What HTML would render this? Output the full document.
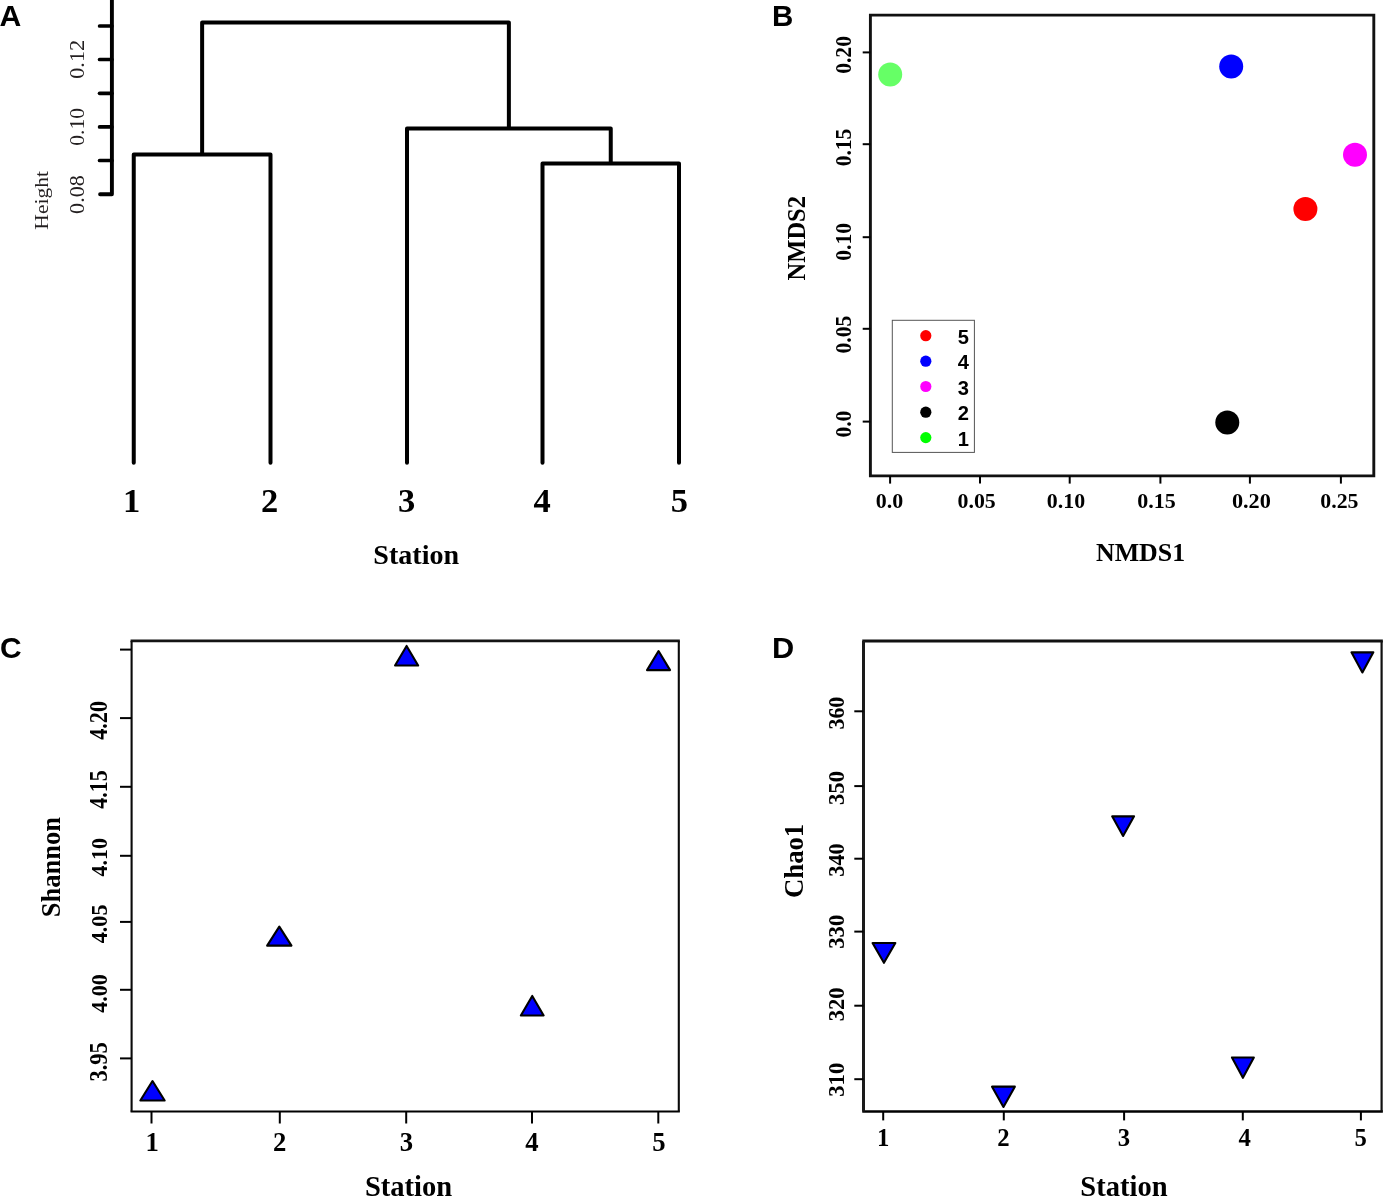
<!DOCTYPE html>
<html><head><meta charset="utf-8"><title>Figure</title>
<style>
html,body{margin:0;padding:0;background:#fff;}
body{width:1383px;height:1196px;overflow:hidden;font-family:"Liberation Serif", serif;}
svg{display:block;will-change:transform;}
</style></head>
<body>
<svg width="1383" height="1196" viewBox="0 0 1383 1196">
<rect x="0" y="0" width="1383" height="1196" fill="#fff"/>
<path d="M111.9,-3 V194.2 H100.1" stroke="#000" stroke-width="3.9" stroke-linecap="round" stroke-linejoin="round" fill="none"/>
<path d="M99.6,26 H111.9" stroke="#000" stroke-width="3.7" stroke-linecap="round" fill="none"/>
<path d="M99.6,59.5 H111.9" stroke="#000" stroke-width="3.7" stroke-linecap="round" fill="none"/>
<path d="M99.6,93.3 H111.9" stroke="#000" stroke-width="3.7" stroke-linecap="round" fill="none"/>
<path d="M99.6,126.95 H111.9" stroke="#000" stroke-width="3.7" stroke-linecap="round" fill="none"/>
<path d="M99.6,160.5 H111.9" stroke="#000" stroke-width="3.7" stroke-linecap="round" fill="none"/>
<path d="M133.75,462.8 V154.4 H270.5 V462.8 M542.5,462.8 V163.6 H679 V462.8 M407,462.8 V128.5 H610.75 V163.6 M202.125,154.4 V22.4 H508.875 V128.5" fill="none" stroke="#000" stroke-width="4" stroke-linejoin="round" stroke-linecap="round"/>
<path d="M870.4,15.1 H1373.8 V475.9 H870.4 Z" fill="none" stroke="#111" stroke-width="2.9" stroke-linejoin="miter"/>
<line x1="862.7" y1="52.4" x2="870.4" y2="52.4" stroke="#000" stroke-width="2" stroke-linecap="butt"/>
<line x1="862.7" y1="144.2" x2="870.4" y2="144.2" stroke="#000" stroke-width="2" stroke-linecap="butt"/>
<line x1="862.7" y1="237.2" x2="870.4" y2="237.2" stroke="#000" stroke-width="2" stroke-linecap="butt"/>
<line x1="862.7" y1="328.8" x2="870.4" y2="328.8" stroke="#000" stroke-width="2" stroke-linecap="butt"/>
<line x1="862.7" y1="421.6" x2="870.4" y2="421.6" stroke="#000" stroke-width="2" stroke-linecap="butt"/>
<line x1="890.1" y1="475.9" x2="890.1" y2="483.6" stroke="#000" stroke-width="2" stroke-linecap="butt"/>
<line x1="980.0" y1="475.9" x2="980.0" y2="483.6" stroke="#000" stroke-width="2" stroke-linecap="butt"/>
<line x1="1069.7" y1="475.9" x2="1069.7" y2="483.6" stroke="#000" stroke-width="2" stroke-linecap="butt"/>
<line x1="1160.4" y1="475.9" x2="1160.4" y2="483.6" stroke="#000" stroke-width="2" stroke-linecap="butt"/>
<line x1="1249.9" y1="475.9" x2="1249.9" y2="483.6" stroke="#000" stroke-width="2" stroke-linecap="butt"/>
<line x1="1340.9" y1="475.9" x2="1340.9" y2="483.6" stroke="#000" stroke-width="2" stroke-linecap="butt"/>
<circle cx="890.2" cy="74.5" r="12" fill="#66ff66"/>
<circle cx="1231.2" cy="66.5" r="12" fill="#0000ff"/>
<circle cx="1355" cy="154.7" r="12" fill="#ff00ff"/>
<circle cx="1305.4" cy="209.1" r="12" fill="#ff0000"/>
<circle cx="1227.3" cy="422.6" r="12" fill="#000000"/>
<rect x="892.3" y="320.3" width="82.10" height="132.10" fill="none" stroke="#555" stroke-width="1"/>
<circle cx="925.8" cy="335.7" r="5.6" fill="#ff0000"/>
<circle cx="925.8" cy="361.2" r="5.6" fill="#0000ff"/>
<circle cx="925.8" cy="386.5" r="5.6" fill="#ff00ff"/>
<circle cx="925.8" cy="412.2" r="5.6" fill="#000000"/>
<circle cx="925.8" cy="437.6" r="5.6" fill="#00ff00"/>
<text x="957.80" y="343.95" font-family='"Liberation Sans", sans-serif' font-size="20.143" font-weight="bold" fill="#000">5</text>
<text x="957.80" y="369.45" font-family='"Liberation Sans", sans-serif' font-size="20.143" font-weight="bold" fill="#000">4</text>
<text x="957.80" y="394.75" font-family='"Liberation Sans", sans-serif' font-size="20.143" font-weight="bold" fill="#000">3</text>
<text x="957.80" y="420.45" font-family='"Liberation Sans", sans-serif' font-size="20.143" font-weight="bold" fill="#000">2</text>
<text x="957.80" y="445.85" font-family='"Liberation Sans", sans-serif' font-size="20.143" font-weight="bold" fill="#000">1</text>
<line x1="130.54999999999998" y1="640.9" x2="679.8499999999999" y2="640.9" stroke="#141414" stroke-width="2.6" stroke-linecap="butt"/>
<line x1="130.54999999999998" y1="1111.5" x2="679.8499999999999" y2="1111.5" stroke="#000" stroke-width="2.0" stroke-linecap="butt"/>
<line x1="131.6" y1="640.9" x2="131.6" y2="1111.5" stroke="#0a0a0a" stroke-width="2.1" stroke-linecap="butt"/>
<line x1="678.8" y1="640.9" x2="678.8" y2="1111.5" stroke="#0a0a0a" stroke-width="2.1" stroke-linecap="butt"/>
<line x1="120.0" y1="649.6" x2="131.6" y2="649.6" stroke="#000" stroke-width="2" stroke-linecap="butt"/>
<line x1="120.0" y1="718.1" x2="131.6" y2="718.1" stroke="#000" stroke-width="2" stroke-linecap="butt"/>
<line x1="120.0" y1="786.8" x2="131.6" y2="786.8" stroke="#000" stroke-width="2" stroke-linecap="butt"/>
<line x1="120.0" y1="855.8" x2="131.6" y2="855.8" stroke="#000" stroke-width="2" stroke-linecap="butt"/>
<line x1="120.0" y1="921.9" x2="131.6" y2="921.9" stroke="#000" stroke-width="2" stroke-linecap="butt"/>
<line x1="120.0" y1="989.8" x2="131.6" y2="989.8" stroke="#000" stroke-width="2" stroke-linecap="butt"/>
<line x1="120.0" y1="1058.4" x2="131.6" y2="1058.4" stroke="#000" stroke-width="2" stroke-linecap="butt"/>
<line x1="151.5" y1="1111.5" x2="151.5" y2="1123.5" stroke="#000" stroke-width="2" stroke-linecap="butt"/>
<line x1="279.8" y1="1111.5" x2="279.8" y2="1123.5" stroke="#000" stroke-width="2" stroke-linecap="butt"/>
<line x1="406.2" y1="1111.5" x2="406.2" y2="1123.5" stroke="#000" stroke-width="2" stroke-linecap="butt"/>
<line x1="532" y1="1111.5" x2="532" y2="1123.5" stroke="#000" stroke-width="2" stroke-linecap="butt"/>
<line x1="658.3" y1="1111.5" x2="658.3" y2="1123.5" stroke="#000" stroke-width="2" stroke-linecap="butt"/>
<polygon points="152.50,1081.05 164.65,1100.55 140.35,1100.55" fill="#0000ff" stroke="#000" stroke-width="2.1" stroke-linejoin="round"/>
<polygon points="279.30,926.65 291.45,945.65 267.15,945.65" fill="#0000ff" stroke="#000" stroke-width="2.1" stroke-linejoin="round"/>
<polygon points="406.60,645.95 418.15,665.55 395.05,665.55" fill="#0000ff" stroke="#000" stroke-width="2.1" stroke-linejoin="round"/>
<polygon points="532.25,995.95 543.65,1015.45 520.85,1015.45" fill="#0000ff" stroke="#000" stroke-width="2.1" stroke-linejoin="round"/>
<polygon points="658.55,651.05 670.05,670.15 647.05,670.15" fill="#0000ff" stroke="#000" stroke-width="2.1" stroke-linejoin="round"/>
<line x1="862.25" y1="640.9" x2="1382.85" y2="640.9" stroke="#111" stroke-width="3.0" stroke-linecap="butt"/>
<line x1="862.25" y1="1111.5" x2="1382.85" y2="1111.5" stroke="#000" stroke-width="2.4" stroke-linecap="butt"/>
<line x1="863.5" y1="640.9" x2="863.5" y2="1111.5" stroke="#1a1a1a" stroke-width="3.0" stroke-linecap="butt"/>
<line x1="1381.6" y1="640.9" x2="1381.6" y2="1111.5" stroke="#111" stroke-width="2.2" stroke-linecap="butt"/>
<line x1="854.3" y1="711.3" x2="863.5" y2="711.3" stroke="#000" stroke-width="2" stroke-linecap="butt"/>
<line x1="854.3" y1="786.1" x2="863.5" y2="786.1" stroke="#000" stroke-width="2" stroke-linecap="butt"/>
<line x1="854.3" y1="858.7" x2="863.5" y2="858.7" stroke="#000" stroke-width="2" stroke-linecap="butt"/>
<line x1="854.3" y1="931.6" x2="863.5" y2="931.6" stroke="#000" stroke-width="2" stroke-linecap="butt"/>
<line x1="854.3" y1="1005.7" x2="863.5" y2="1005.7" stroke="#000" stroke-width="2" stroke-linecap="butt"/>
<line x1="854.3" y1="1079.2" x2="863.5" y2="1079.2" stroke="#000" stroke-width="2" stroke-linecap="butt"/>
<line x1="883.2" y1="1111.5" x2="883.2" y2="1120.4" stroke="#000" stroke-width="2" stroke-linecap="butt"/>
<line x1="1003.8" y1="1111.5" x2="1003.8" y2="1120.4" stroke="#000" stroke-width="2" stroke-linecap="butt"/>
<line x1="1124.1" y1="1111.5" x2="1124.1" y2="1120.4" stroke="#000" stroke-width="2" stroke-linecap="butt"/>
<line x1="1242.8" y1="1111.5" x2="1242.8" y2="1120.4" stroke="#000" stroke-width="2" stroke-linecap="butt"/>
<line x1="1360.9" y1="1111.5" x2="1360.9" y2="1120.4" stroke="#000" stroke-width="2" stroke-linecap="butt"/>
<polygon points="872.55,943.05 895.35,943.05 883.95,962.85" fill="#0000ff" stroke="#000" stroke-width="2.1" stroke-linejoin="round"/>
<polygon points="992.05,1086.65 1014.85,1086.65 1003.45,1106.95" fill="#0000ff" stroke="#000" stroke-width="2.1" stroke-linejoin="round"/>
<polygon points="1112.15,816.35 1134.05,816.35 1123.10,835.95" fill="#0000ff" stroke="#000" stroke-width="2.1" stroke-linejoin="round"/>
<polygon points="1231.95,1057.45 1253.85,1057.45 1242.90,1077.85" fill="#0000ff" stroke="#000" stroke-width="2.1" stroke-linejoin="round"/>
<polygon points="1351.45,652.35 1373.35,652.35 1362.40,672.45" fill="#0000ff" stroke="#000" stroke-width="2.1" stroke-linejoin="round"/>
<text transform="translate(-0.45,25.90) scale(1.50725,1.50725)" x="0" y="0" font-family='"Liberation Sans", sans-serif' font-size="20" font-weight="bold" fill="#000">A</text>
<text transform="translate(83.80,78.79) rotate(-90) scale(1.11480,1.00735)" x="0" y="0" font-family='"Liberation Serif", serif' font-size="20" font-weight="normal" fill="#231f20">0.12</text>
<text transform="translate(84.09,145.87) rotate(-90) scale(1.08383,1.02941)" x="0" y="0" font-family='"Liberation Serif", serif' font-size="20" font-weight="normal" fill="#231f20">0.10</text>
<text transform="translate(84.09,213.89) rotate(-90) scale(1.10778,1.02941)" x="0" y="0" font-family='"Liberation Serif", serif' font-size="20" font-weight="normal" fill="#231f20">0.08</text>
<text transform="translate(47.92,229.65) rotate(-90) scale(1.07821,0.97238)" x="0" y="0" font-family='"Liberation Serif", serif' font-size="20" font-weight="normal" fill="#231f20">Height</text>
<text transform="translate(373.36,564.22) scale(1.40369,1.40000)" x="0" y="0" font-family='"Liberation Serif", serif' font-size="20" font-weight="bold" fill="#000">Station</text>
<text transform="translate(772.08,25.90) scale(1.47541,1.50725)" x="0" y="0" font-family='"Liberation Sans", sans-serif' font-size="20" font-weight="bold" fill="#000">B</text>
<text transform="translate(850.96,73.86) rotate(-90) scale(1.08084,1.12500)" x="0" y="0" font-family='"Liberation Serif", serif' font-size="20" font-weight="bold" fill="#000">0.20</text>
<text transform="translate(850.96,166.36) rotate(-90) scale(1.07761,1.12500)" x="0" y="0" font-family='"Liberation Serif", serif' font-size="20" font-weight="bold" fill="#000">0.15</text>
<text transform="translate(851.16,260.66) rotate(-90) scale(1.07485,1.12500)" x="0" y="0" font-family='"Liberation Serif", serif' font-size="20" font-weight="bold" fill="#000">0.10</text>
<text transform="translate(851.26,353.47) rotate(-90) scale(1.08358,1.14706)" x="0" y="0" font-family='"Liberation Serif", serif' font-size="20" font-weight="bold" fill="#000">0.05</text>
<text transform="translate(851.26,437.46) rotate(-90) scale(1.07265,1.14706)" x="0" y="0" font-family='"Liberation Serif", serif' font-size="20" font-weight="bold" fill="#000">0.0</text>
<text transform="translate(875.72,508.18) scale(1.09829,1.05882)" x="0" y="0" font-family='"Liberation Serif", serif' font-size="20" font-weight="bold" fill="#000">0.0</text>
<text transform="translate(957.53,508.18) scale(1.09254,1.05882)" x="0" y="0" font-family='"Liberation Serif", serif' font-size="20" font-weight="bold" fill="#000">0.05</text>
<text transform="translate(1046.82,508.18) scale(1.09581,1.05882)" x="0" y="0" font-family='"Liberation Serif", serif' font-size="20" font-weight="bold" fill="#000">0.10</text>
<text transform="translate(1137.32,508.18) scale(1.10149,1.05882)" x="0" y="0" font-family='"Liberation Serif", serif' font-size="20" font-weight="bold" fill="#000">0.15</text>
<text transform="translate(1231.91,508.18) scale(1.11377,1.05882)" x="0" y="0" font-family='"Liberation Serif", serif' font-size="20" font-weight="bold" fill="#000">0.20</text>
<text transform="translate(1320.33,508.18) scale(1.09254,1.05882)" x="0" y="0" font-family='"Liberation Serif", serif' font-size="20" font-weight="bold" fill="#000">0.25</text>
<text transform="translate(1095.98,560.55) scale(1.29377,1.26119)" x="0" y="0" font-family='"Liberation Serif", serif' font-size="20" font-weight="bold" fill="#000">NMDS1</text>
<text transform="translate(804.84,280.39) rotate(-90) scale(1.22485,1.27612)" x="0" y="0" font-family='"Liberation Serif", serif' font-size="20" font-weight="bold" fill="#000">NMDS2</text>
<text transform="translate(0.00,658.40) scale(1.49618,1.51408)" x="0" y="0" font-family='"Liberation Sans", sans-serif' font-size="20" font-weight="bold" fill="#000">C</text>
<text transform="translate(106.83,739.83) rotate(-90) scale(1.10914,1.22794)" x="0" y="0" font-family='"Liberation Serif", serif' font-size="20" font-weight="bold" fill="#000">4.20</text>
<text transform="translate(106.83,808.73) rotate(-90) scale(1.10000,1.24627)" x="0" y="0" font-family='"Liberation Serif", serif' font-size="20" font-weight="bold" fill="#000">4.15</text>
<text transform="translate(106.64,876.53) rotate(-90) scale(1.10029,1.19853)" x="0" y="0" font-family='"Liberation Serif", serif' font-size="20" font-weight="bold" fill="#000">4.10</text>
<text transform="translate(106.84,943.33) rotate(-90) scale(1.10882,1.19853)" x="0" y="0" font-family='"Liberation Serif", serif' font-size="20" font-weight="bold" fill="#000">4.05</text>
<text transform="translate(106.84,1012.63) rotate(-90) scale(1.09735,1.19853)" x="0" y="0" font-family='"Liberation Serif", serif' font-size="20" font-weight="bold" fill="#000">4.00</text>
<text transform="translate(106.84,1081.60) rotate(-90) scale(1.12537,1.20741)" x="0" y="0" font-family='"Liberation Serif", serif' font-size="20" font-weight="bold" fill="#000">3.95</text>
<text transform="translate(60.12,917.26) rotate(-90) scale(1.32615,1.39286)" x="0" y="0" font-family='"Liberation Serif", serif' font-size="20" font-weight="bold" fill="#000">Shannon</text>
<text transform="translate(364.93,1196.39) scale(1.42714,1.42714)" x="0" y="0" font-family='"Liberation Serif", serif' font-size="20" font-weight="bold" fill="#000">Station</text>
<text transform="translate(772.00,657.90) scale(1.53659,1.49275)" x="0" y="0" font-family='"Liberation Sans", sans-serif' font-size="20" font-weight="bold" fill="#000">D</text>
<text transform="translate(843.67,729.58) rotate(-90) scale(1.09859,1.15556)" x="0" y="0" font-family='"Liberation Serif", serif' font-size="20" font-weight="bold" fill="#000">360</text>
<text transform="translate(843.67,805.01) rotate(-90) scale(1.13380,1.15556)" x="0" y="0" font-family='"Liberation Serif", serif' font-size="20" font-weight="bold" fill="#000">350</text>
<text transform="translate(843.67,876.69) rotate(-90) scale(1.11268,1.15556)" x="0" y="0" font-family='"Liberation Serif", serif' font-size="20" font-weight="bold" fill="#000">340</text>
<text transform="translate(843.57,948.71) rotate(-90) scale(1.13380,1.17037)" x="0" y="0" font-family='"Liberation Serif", serif' font-size="20" font-weight="bold" fill="#000">330</text>
<text transform="translate(843.67,1021.31) rotate(-90) scale(1.13380,1.15556)" x="0" y="0" font-family='"Liberation Serif", serif' font-size="20" font-weight="bold" fill="#000">320</text>
<text transform="translate(843.67,1096.71) rotate(-90) scale(1.13380,1.15556)" x="0" y="0" font-family='"Liberation Serif", serif' font-size="20" font-weight="bold" fill="#000">310</text>
<text transform="translate(803.32,897.93) rotate(-90) scale(1.33458,1.40714)" x="0" y="0" font-family='"Liberation Serif", serif' font-size="20" font-weight="bold" fill="#000">Chao1</text>
<text transform="translate(1080.33,1196.39) scale(1.42714,1.42714)" x="0" y="0" font-family='"Liberation Serif", serif' font-size="20" font-weight="bold" fill="#000">Station</text>
<text x="123.06" y="511.80" font-family='"Liberation Serif", serif' font-size="34.504" font-weight="bold" fill="#000">1</text>
<text x="260.96" y="511.80" font-family='"Liberation Serif", serif' font-size="34.504" font-weight="bold" fill="#000">2</text>
<text x="398.09" y="511.80" font-family='"Liberation Serif", serif' font-size="34.504" font-weight="bold" fill="#000">3</text>
<text x="533.56" y="511.80" font-family='"Liberation Serif", serif' font-size="34.504" font-weight="bold" fill="#000">4</text>
<text x="670.79" y="511.80" font-family='"Liberation Serif", serif' font-size="34.504" font-weight="bold" fill="#000">5</text>
<text x="145.52" y="1151.10" font-family='"Liberation Serif", serif' font-size="26.718" font-weight="bold" fill="#000">1</text>
<text x="272.89" y="1151.10" font-family='"Liberation Serif", serif' font-size="26.718" font-weight="bold" fill="#000">2</text>
<text x="399.75" y="1151.10" font-family='"Liberation Serif", serif' font-size="26.718" font-weight="bold" fill="#000">3</text>
<text x="525.29" y="1151.10" font-family='"Liberation Serif", serif' font-size="26.718" font-weight="bold" fill="#000">4</text>
<text x="652.25" y="1151.10" font-family='"Liberation Serif", serif' font-size="26.718" font-weight="bold" fill="#000">5</text>
<text x="876.95" y="1146.40" font-family='"Liberation Serif", serif' font-size="24.733" font-weight="bold" fill="#000">1</text>
<text x="997.18" y="1146.40" font-family='"Liberation Serif", serif' font-size="24.733" font-weight="bold" fill="#000">2</text>
<text x="1117.65" y="1146.40" font-family='"Liberation Serif", serif' font-size="24.733" font-weight="bold" fill="#000">3</text>
<text x="1238.48" y="1146.40" font-family='"Liberation Serif", serif' font-size="24.733" font-weight="bold" fill="#000">4</text>
<text x="1354.55" y="1146.40" font-family='"Liberation Serif", serif' font-size="24.733" font-weight="bold" fill="#000">5</text>
</svg>
</body></html>
